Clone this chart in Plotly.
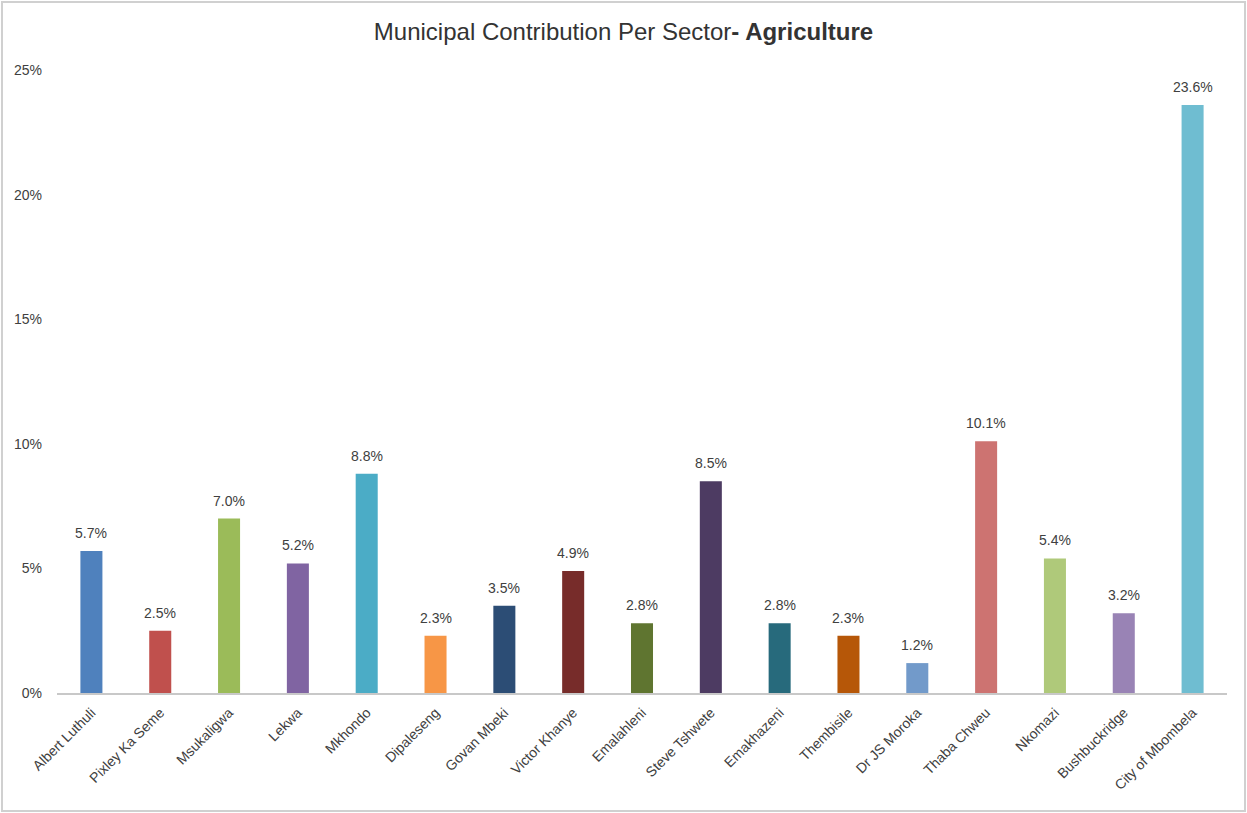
import plotly.graph_objects as go

categories = ["Albert Luthuli", "Pixley Ka Seme", "Msukaligwa", "Lekwa", "Mkhondo",
              "Dipaleseng", "Govan Mbeki", "Victor Khanye", "Emalahleni", "Steve Tshwete",
              "Emakhazeni", "Thembisile", "Dr JS Moroka", "Thaba Chweu", "Nkomazi",
              "Bushbuckridge", "City of Mbombela"]
values = [5.7, 2.5, 7.0, 5.2, 8.8, 2.3, 3.5, 4.9, 2.8, 8.5, 2.8, 2.3, 1.2, 10.1, 5.4, 3.2, 23.6]
colors = ["#4F81BD", "#C0504D", "#9BBB59", "#8064A2", "#4BACC6", "#F79646", "#2C4D75",
          "#772C2A", "#5F7530", "#4D3B62", "#276A7C", "#B65708", "#729ACA", "#CD7371",
          "#AFC97A", "#9983B5", "#6FBDD1"]
y_ticks = [0, 5, 10, 15, 20, 25]
y_tick_labels = ["0%", "5%", "10%", "15%", "20%", "25%"]

font = "Liberation Sans, Arial, Helvetica, sans-serif"

fig = go.Figure(go.Bar(
    x=categories, y=values,
    marker=dict(color=colors, line=dict(width=0)),
    hoverinfo="x+y",
))

for c, v in zip(categories, values):
    fig.add_annotation(x=c, y=v, text=f"{v:.1f}%", showarrow=False,
                       yanchor="bottom", yshift=8,
                       font=dict(size=14, color="#404040", family=font))

fig.update_layout(
    width=1247, height=813,
    margin=dict(l=57, r=20, t=70, b=120),
    paper_bgcolor="white", plot_bgcolor="white",
    bargap=0.68,
    showlegend=False,
    font=dict(family=font, color="#404040", size=14),
    title=dict(text="Municipal Contribution Per Sector<b>- Agriculture</b>",
               x=0.5, xanchor="center", y=0.961, yanchor="middle",
               font=dict(size=24, color="#333333", family=font)),
    xaxis=dict(showline=True, linecolor="#C8C8C8", linewidth=2, tickangle=-45,
               ticks="", showgrid=False, ticklabelstandoff=4,
               tickfont=dict(size=14, color="#404040")),
    yaxis=dict(range=[0, 25], tickvals=y_ticks, ticktext=y_tick_labels, showgrid=False,
               showline=False, zeroline=False, ticks="", ticklabelstandoff=14,
               tickfont=dict(size=14, color="#404040")),
    shapes=[dict(type="rect", xref="paper", yref="paper",
                 x0=(2 - 57) / 1170, x1=(1245 - 57) / 1170,
                 y0=(693 - 811) / 623, y1=(693 - 2) / 623,
                 line=dict(color="#D0D0D0", width=2), fillcolor="rgba(0,0,0,0)", layer="below")],
)

fig.write_html("out.html", config={"displayModeBar": False},
               post_script="document.body.style.margin='0';")
